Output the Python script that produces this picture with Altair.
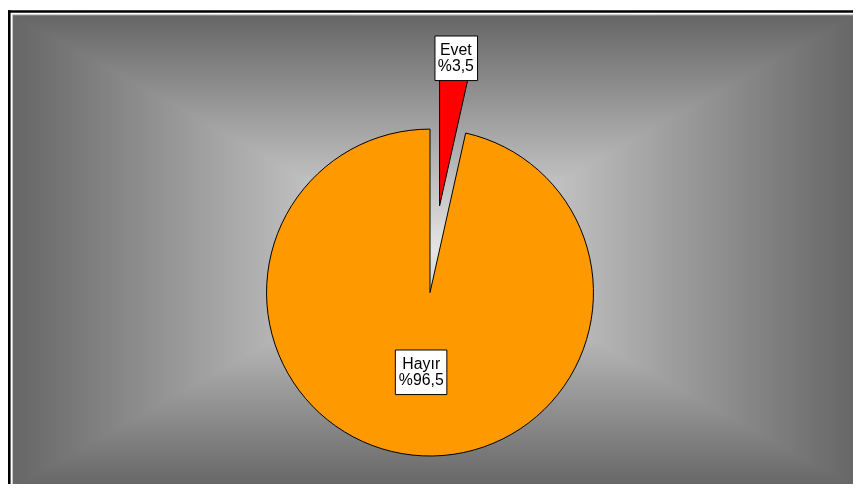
import math
import altair as alt
import pandas as pd

# ---- data ----
categories = ["Evet", "Hayır"]
values = [3.5, 96.5]
order = [0, 1]
colors = ["#FF0000", "#FF9900"]

labels = [f"{c}\n%{v:.1f}".replace(".", ",") for c, v in zip(categories, values)]
df = pd.DataFrame({"cat": categories, "value": values, "ord": order, "label": labels})

W, H = 853, 476
CX, CY = 426, 285
R = 165
EXPLODE = 88
mid_evet = values[0] / sum(values) * math.pi  # bisector angle of Evet slice
RX = CX + EXPLODE * math.sin(mid_evet)
RY = CY - EXPLODE * math.cos(mid_evet)

edge = "#666666"
center = "#e6e6e6"

def rect(x, x2, y, y2, **kw):
    return alt.Chart(df.head(1)).mark_rect(**kw).encode(
        x=alt.value(x), x2=alt.value(x2), y=alt.value(y), y2=alt.value(y2)
    )

def rule(x, x2, y, y2, **kw):
    return alt.Chart(df.head(1)).mark_rule(**kw).encode(
        x=alt.value(x), x2=alt.value(x2), y=alt.value(y), y2=alt.value(y2)
    )

bg_h = rect(5, 855, 5, 481, color=alt.Gradient(
    gradient="linear", x1=0, x2=1, y1=0, y2=0,
    stops=[alt.GradientStop(offset=0, color=edge),
           alt.GradientStop(offset=0.5, color=center),
           alt.GradientStop(offset=1, color=edge)]))
bg_v = rect(5, 855, 5, 481, blend="darken", color=alt.Gradient(
    gradient="linear", x1=0, x2=0, y1=0, y2=1,
    stops=[alt.GradientStop(offset=0, color=edge),
           alt.GradientStop(offset=0.5, color=center),
           alt.GradientStop(offset=1, color=edge)]))
inner_line = rect(4.5, 860, 4.5, 481.5, fill="transparent", stroke="#c4c4c4", strokeWidth=1)
frame_left = rule(1.3, 1.3, 0, 600, color="#000000", strokeWidth=2.6)
frame_top = rule(0, 900, 1.3, 1.3, color="#000000", strokeWidth=2.6)

color_enc = alt.Color("cat:N", scale=alt.Scale(domain=categories, range=colors), legend=None)
theta_enc = alt.Theta("value:Q", stack=True)
order_enc = alt.Order("ord:Q")

def show_only(name):
    return alt.condition(alt.datum.cat == name, alt.value(1), alt.value(0))

pie_main = alt.Chart(df).mark_arc(radius=R, stroke="#000000", strokeWidth=1).encode(
    theta=theta_enc, order=order_enc, color=color_enc, opacity=show_only("Hayır"),
    x=alt.value(CX), y=alt.value(CY))
pie_expl = alt.Chart(df).mark_arc(radius=R, stroke="#000000", strokeWidth=1).encode(
    theta=theta_enc, order=order_enc, color=color_enc, opacity=show_only("Evet"),
    x=alt.value(RX), y=alt.value(RY))

box_evet = rect(431, 474, 26, 71, fill="#ffffff", stroke="#000000", strokeWidth=1)
box_hayir = rect(391, 443, 343, 388, fill="#ffffff", stroke="#000000", strokeWidth=1)

def text_layer(name, radius):
    return alt.Chart(df).mark_text(
        radius=radius, fontSize=16, lineHeight=16, lineBreak="\n", dy=-8,
        font="Liberation Sans", color="#000000", align="center", baseline="middle"
    ).encode(theta=theta_enc, order=order_enc, text="label:N",
             opacity=show_only(name), x=alt.value(CX), y=alt.value(CY))

txt_evet = text_layer("Evet", 238)
txt_hayir = text_layer("Hayır", 80.5)

chart = alt.layer(
    bg_h, bg_v, inner_line, frame_left, frame_top, pie_main, pie_expl,
    box_evet, box_hayir, txt_evet, txt_hayir
).properties(
    width=W, height=H, autosize="none", padding=0, background="#ffffff"
).configure_view(strokeWidth=0)

chart.save("out.html", embed_options={"renderer": "svg", "actions": False})
